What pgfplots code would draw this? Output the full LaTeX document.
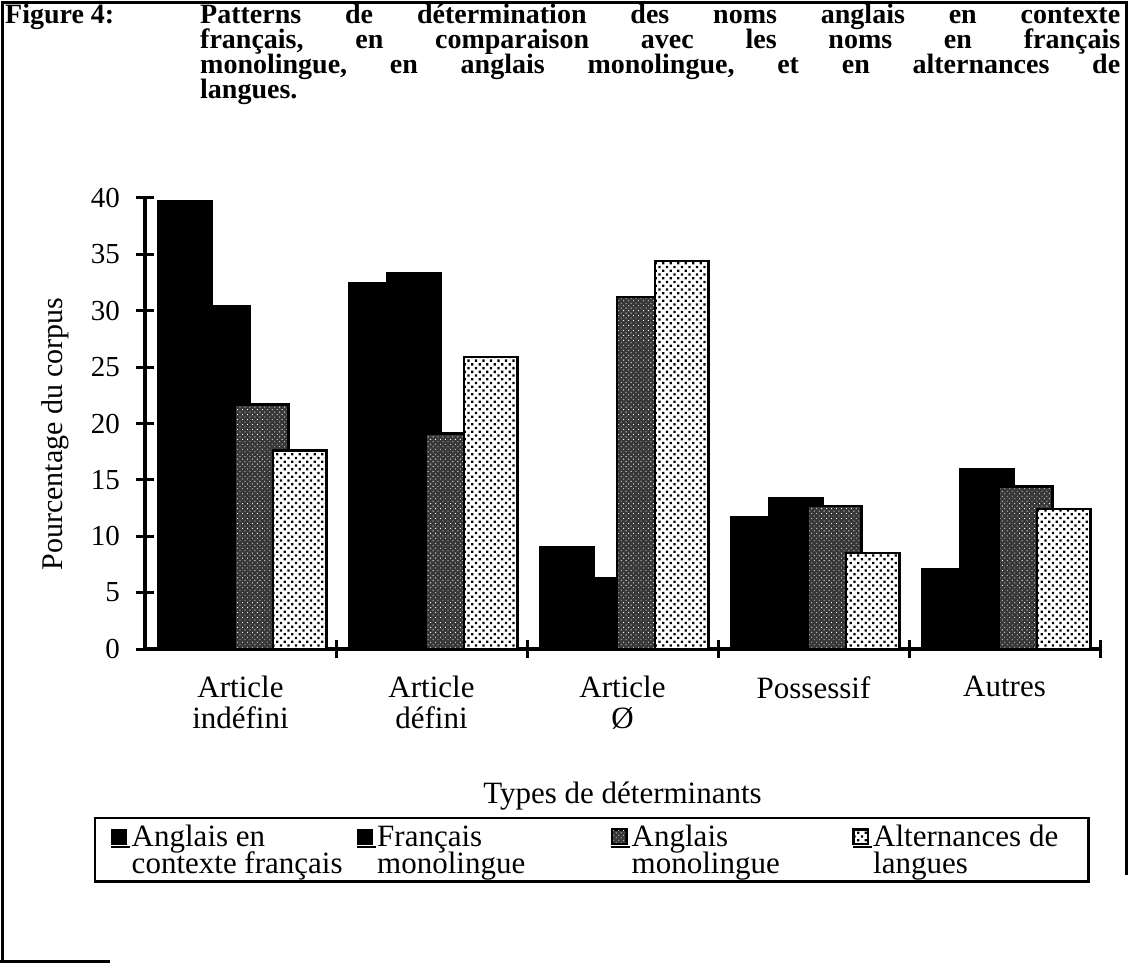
\documentclass[border=0pt]{standalone}
\usepackage{fontspec}
\setmainfont{Liberation Serif}
\usepackage{pgfplots}
\pgfplotsset{compat=1.18}
\usetikzlibrary{patterns,patterns.meta}

\newcommand\chartfont{\fontsize{31}{31}\selectfont}
\newcommand\tickfont{\fontsize{29}{31}\selectfont}
\newcommand\titlefont{\bfseries\fontsize{28}{25}\selectfont}

\pgfplotsset{
  mylegend/.style={legend image code/.code={%
    \draw[##1, line width=1.5pt] (0.75pt,2.75pt) rectangle (15.25pt,17.25pt);
    \path (0pt,0pt) -- (19pt,0pt);}},
}

\begin{document}
\begin{tikzpicture}[x=1pt,y=1pt]
\useasboundingbox (0,0) rectangle (1129,964);
% frame
\draw[line width=2.5pt] (2.5,3) -- (2.5,961.5) -- (1126.5,961.5) -- (1126.5,89);
\draw[line width=2.5pt] (0,2.5) -- (110,2.5);
% title
\node[anchor=base west, inner sep=0pt, font=\titlefont] at (5,940) {Figure 4:};
\node[anchor=base west, inner sep=0pt, font=\titlefont] at (200,940) {\hbox to 920pt{Patterns\hfill de\hfill détermination\hfill des\hfill noms\hfill anglais\hfill en\hfill contexte}};
\node[anchor=base west, inner sep=0pt, font=\titlefont] at (200,915) {\hbox to 920pt{français,\hfill en\hfill comparaison\hfill avec\hfill les\hfill noms\hfill en\hfill français}};
\node[anchor=base west, inner sep=0pt, font=\titlefont] at (200,890) {\hbox to 920pt{monolingue,\hfill en\hfill anglais\hfill monolingue,\hfill et\hfill en\hfill alternances\hfill de}};
\node[anchor=base west, inner sep=0pt, font=\titlefont] at (200,865) {langues.};

\begin{axis}[
  at={(145pt,315pt)}, anchor=south west,
  scale only axis, width=955pt, height=451pt,
  xmin=-0.5, xmax=4.5, ymin=0, ymax=40,
  axis x line=bottom, axis y line=left,
  axis line style={-, line width=3.5pt},
  ybar, bar width=0.28,
  ytick={0,5,...,40},
  xtick={0.5,1.5,2.5,3.5,4.5}, xticklabels={,,,,,},
  extra x ticks={0,1,2,3,4},
  extra x tick labels={{Article\\indéfini},{Article\\défini},{Article\\Ø},{Possessif},{Autres}},
  extra x tick style={major tick length=0pt, xticklabel style={font=\chartfont}},
  tick align=center, major tick length=18pt,
  tick style={line width=3pt, black},
  /pgf/number format/assume math mode=true,
  ticklabel style={font=\tickfont},
  yticklabel style={anchor=east, inner sep=0pt, xshift=-16pt},
  xticklabel style={align=center, anchor=north, inner sep=0pt, yshift=-27pt},
  xlabel={Types de déterminants},
  xlabel style={at={(axis description cs:0.5,0)}, anchor=base, yshift=-154pt, font=\chartfont},
  ylabel={Pourcentage du corpus},
  ylabel style={at={(axis description cs:-0.0859,0.4767)}, anchor=base, font=\fontsize{30}{30}\selectfont},
  legend columns=4,
  legend style={at={(axis description cs:-0.0534,-0.3725)}, anchor=north west,
    draw=black, line width=2.5pt, inner xsep=15pt, inner ysep=7pt,
    font=\chartfont, row sep=3pt,
    cells={anchor=base west}, nodes={inner sep=0pt},
    /tikz/every even column/.append style={column sep=0pt},
    /tikz/every odd column/.append style={column sep=0pt}},
]
\addplot[mylegend, draw=black, fill=black, line width=2.5pt, bar shift=-0.29]
  coordinates {(0,39.7) (1,32.4) (2,9.0) (3,11.7) (4,7.1)};
\addlegendentry{\makebox[224pt][l]{Anglais en}}
\addplot[mylegend, draw=black, fill=black, line width=2.5pt, bar shift=-0.09]
  coordinates {(0,30.4) (1,33.3) (2,6.3) (3,13.4) (4,15.9)};
\addlegendentry{\makebox[233pt][l]{Français}}
\addplot[mylegend, draw=black, line width=2.5pt, bar shift=0.11,
  preaction={fill=black!78}, pattern={Dots[distance=3.5pt, radius=0.6pt, angle=45]}, pattern color=white]
  coordinates {(0,21.7) (1,19.1) (2,31.2) (3,12.7) (4,14.4)};
\addlegendentry{\makebox[220pt][l]{Anglais}}
\addplot[mylegend, draw=black, line width=2.5pt, bar shift=0.31,
  preaction={fill=white}, pattern={Dots[distance=5.3pt, radius=1.6pt, angle=45]}, pattern color=black]
  coordinates {(0,17.6) (1,25.9) (2,34.4) (3,8.5) (4,12.4)};
\addlegendentry{\makebox[200pt][l]{Alternances de}}
\addlegendimage{empty legend}
\addlegendentry{contexte français}
\addlegendimage{empty legend}
\addlegendentry{monolingue}
\addlegendimage{empty legend}
\addlegendentry{monolingue}
\addlegendimage{empty legend}
\addlegendentry{langues}
\end{axis}
\end{tikzpicture}
\end{document}
